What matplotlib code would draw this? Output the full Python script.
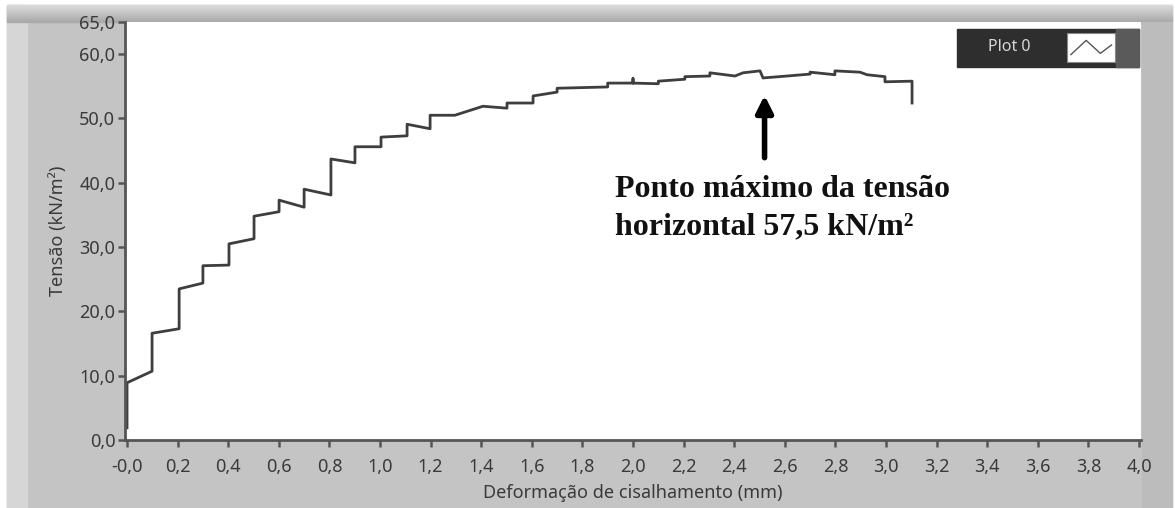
import numpy as np
import matplotlib.pyplot as plt
from matplotlib.patches import Rectangle

# curve (deformation in mm, stress in kN/m2)
deform = [0.0, 0.0, 0.099, 0.099, 0.206, 0.206, 0.300, 0.300, 0.403, 0.403,
          0.502, 0.502, 0.601, 0.601, 0.700, 0.700, 0.806, 0.806, 0.901, 0.901,
          1.004, 1.004, 1.107, 1.107, 1.198, 1.198, 1.296, 1.407, 1.502, 1.502,
          1.605, 1.605, 1.700, 1.700, 1.900, 1.900, 2.000, 2.000, 2.000, 2.100,
          2.100, 2.205, 2.205, 2.304, 2.304, 2.403, 2.435, 2.502, 2.514, 2.609,
          2.700, 2.700, 2.798, 2.798, 2.897, 2.925, 2.996, 2.996, 3.103, 3.103]
stress = [1.9, 8.9, 10.7, 16.6, 17.3, 23.5, 24.4, 27.1, 27.2, 30.5,
          31.3, 34.8, 35.5, 37.3, 36.2, 39.0, 38.1, 43.7, 43.1, 45.6,
          45.6, 47.1, 47.3, 49.1, 48.4, 50.5, 50.5, 51.9, 51.6, 52.4,
          52.4, 53.5, 54.1, 54.7, 54.9, 55.5, 55.5, 56.2, 55.5, 55.4,
          55.8, 56.1, 56.5, 56.6, 57.1, 56.6, 57.1, 57.4, 56.3, 56.6,
          56.9, 57.2, 56.8, 57.4, 57.2, 56.8, 56.5, 55.7, 55.8, 52.4]

xticks = [0.0, 0.2, 0.4, 0.6, 0.8, 1.0, 1.2, 1.4, 1.6, 1.8, 2.0,
          2.2, 2.4, 2.6, 2.8, 3.0, 3.2, 3.4, 3.6, 3.8, 4.0]
xlabels = ["-0,0"] + [f"{v:.1f}".replace(".", ",") for v in xticks[1:]]
yticks = [0, 10, 20, 30, 40, 50, 60, 65]
ylabels = [f"{v:.1f}".replace(".", ",") for v in yticks]

peak_x, peak_tip, peak_tail = 2.52, 53.6, 43.9
note = "Ponto máximo da tensão\nhorizontal 57,5 kN/m²"

W, H = 1175, 508
fig = plt.figure(figsize=(W / 100, H / 100), dpi=100, facecolor="white")

def px_rect(x0, y0, x1, y1, color):
    # rectangle in figure pixels, y measured from the top
    fig.patches.append(Rectangle((x0 / W, 1 - y1 / H), (x1 - x0) / W, (y1 - y0) / H,
                                 transform=fig.transFigure, color=color, zorder=-10))

# LabVIEW-style panel
px_rect(7, 5, 1172, 508, "#c4c4c4")
px_rect(7, 5, 27, 508, "#d6d6d6")
for i in range(17):
    g = 0.86 - 0.012 * i
    px_rect(7, 5 + i, 1172, 6 + i, (g, g, g))
px_rect(1142, 22, 1172, 508, "#bcbcbc")

ax = fig.add_axes([125 / W, 1 - 440 / H, (1141 - 125) / W, (440 - 22) / H])
ax.set_zorder(1)
ax.set_facecolor("white")
ax.plot(deform, stress, color="#3e3e3e", lw=2)

ax.set_xlim(-0.008, 4.008)
ax.set_ylim(0, 65)
ax.set_xticks(xticks)
ax.set_xticklabels(xlabels)
ax.set_yticks(yticks)
ax.set_yticklabels(ylabels)

for s in ["top", "right"]:
    ax.spines[s].set_visible(False)
for s in ["left", "bottom"]:
    ax.spines[s].set_color("#555555")
    ax.spines[s].set_linewidth(2)
ax.tick_params(colors="#555555", labelcolor="#3a3a3a", labelsize=13, width=1.8, length=5)
ax.tick_params(axis="x", pad=8)
ax.tick_params(axis="y", pad=2)
for t in ax.get_xticklabels() + ax.get_yticklabels():
    t.set_family("Noto Sans")

ax.set_xlabel("Deformação de cisalhamento (mm)", family="Noto Sans", fontsize=13,
              color="#3a3a3a", labelpad=6)
ax.set_ylabel("Tensão (kN/m²)", family="Noto Sans", fontsize=13,
              color="#3a3a3a", labelpad=9)

# annotation
ax.annotate("", xy=(peak_x, peak_tip), xytext=(peak_x, peak_tail),
            arrowprops=dict(arrowstyle="-|>,head_width=0.5,head_length=1.0",
                            color="black", lw=4, shrinkA=0, shrinkB=0))
ax.text(1.93, 41.2, note, family="Liberation Serif", weight="bold", fontsize=23,
        color="#111111", va="top", ha="left", linespacing=1.38)

# legend box
ax.add_patch(Rectangle((0.819, 0.892), 0.179, 0.091, transform=ax.transAxes,
                       color="#2e2e2e", zorder=5))
ax.add_patch(Rectangle((0.975, 0.892), 0.023, 0.091, transform=ax.transAxes,
                       color="#5a5a5a", zorder=5))
ax.add_patch(Rectangle((0.927, 0.904), 0.047, 0.070, transform=ax.transAxes,
                       facecolor="white", edgecolor="#888888", lw=0.8, zorder=6))
ax.plot([0.931, 0.946, 0.960, 0.971], [0.922, 0.956, 0.925, 0.945],
        transform=ax.transAxes, color="#555555", lw=1, zorder=7)
ax.text(0.870, 0.940, "Plot 0", transform=ax.transAxes, family="Noto Sans",
        fontsize=11.5, color="#d8d8d8", ha="center", va="center", zorder=7)

fig.savefig("out.png", dpi=100, facecolor=fig.get_facecolor())
